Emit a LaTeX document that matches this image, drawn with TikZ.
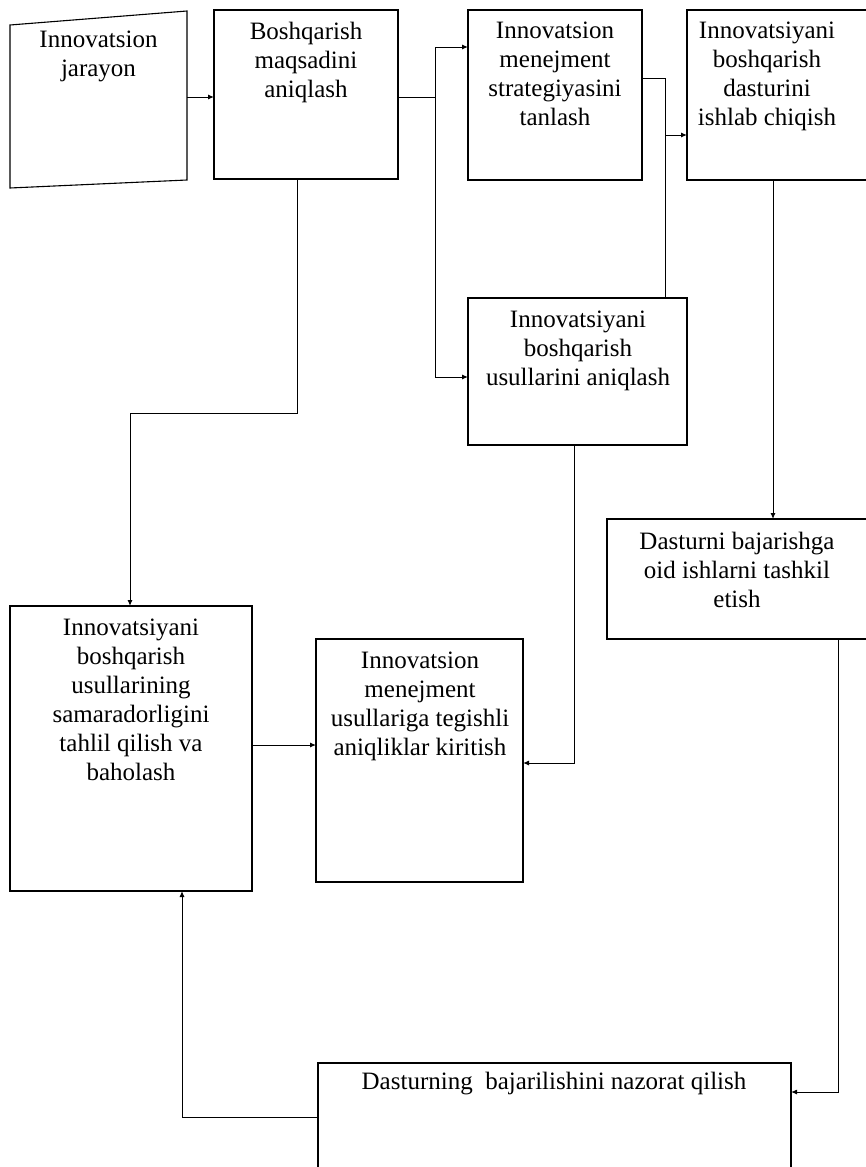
\documentclass[tikz,border=0pt]{standalone}
\usepackage{fontspec}
\setmainfont{Liberation Serif}
\usetikzlibrary{arrows.meta}
\begin{document}
\begin{tikzpicture}[x=1pt,y=-1pt,
  box/.style={draw, line width=1.1pt, rectangle, inner sep=0pt, outer sep=0pt},
  lbl/.style={anchor=north, align=center, inner sep=0pt, font=\fontsize{25}{29}\selectfont},
  conn/.style={line width=1pt},
  arr/.style={conn, -{Latex[length=6pt,width=5pt]}}]
\useasboundingbox[fill=white] (0,0) rectangle (866,1167);

% boxes
\node[inner sep=0pt, outer sep=0pt, minimum width=177pt, minimum height=177pt] (A) at (98.5,99.5) {};
\draw[line width=1.1pt] (10,25) -- (187,11) -- (187,180) -- (10,188) -- cycle;
\node[box, minimum width=184pt, minimum height=169pt] (B) at (306,94.5) {};
\node[box, minimum width=174pt, minimum height=170pt] (C) at (555,95) {};
\node[box, minimum width=213pt, minimum height=170pt] (D) at (793.5,95) {};
\node[box, minimum width=219pt, minimum height=147pt] (E) at (577.5,371.5) {};
\node[box, minimum width=293pt, minimum height=120pt] (F) at (753.5,579) {};
\node[box, minimum width=242pt, minimum height=285pt] (G) at (131,748.5) {};
\node[box, minimum width=207pt, minimum height=243pt] (H) at (419.5,760.5) {};
\node[box, minimum width=473pt, minimum height=147pt] (I) at (554.5,1136.5) {};

% texts
\node[lbl] (At) at (98.5,31) {Innovatsion\\jarayon};
\node[lbl] (Bt) at (306,22) {Boshqarish\\maqsadini\\aniqlash};
\node[lbl] (Ct) at (555,22) {Innovatsion\\menejment\\strategiyasini\\tanlash};
\node[lbl] (Dt) at (767,22) {Innovatsiyani\\boshqarish\\dasturini\\ishlab chiqish};
\node[lbl] (Et) at (578,311) {Innovatsiyani\\boshqarish\\usullarini aniqlash};
\node[lbl] (Ft) at (737,532) {Dasturni bajarishga\\oid ishlarni tashkil\\etish};
\node[lbl] (Gt) at (131,619) {Innovatsiyani\\boshqarish\\usullarining\\samaradorligini\\tahlil qilish va\\baholash};
\node[lbl] (Ht) at (420,652) {Innovatsion\\menejment\\usullariga tegishli\\aniqliklar kiritish};
\node[lbl] (It) at (554,1072) {Dasturning\ \ bajarilishini nazorat qilish};

% connectors
\draw[arr] (A.east |- 0,97) -- (B.west |- 0,97);

\coordinate (jB) at (435,97);
\coordinate (jBt) at (435,47);
\coordinate (jBb) at (435,377);
\draw[conn] (B.east |- jB) -- (jB);
\draw[conn] (jBt) -- (jBb);
\draw[arr] (jBt) -- (C.west |- jBt);
\draw[arr] (jBb) -- (E.west |- jBb);

\coordinate (jC) at (665,78);
\coordinate (jCd) at (665,135);
\draw[conn] (C.east |- jC) -- (jC) -- (jC |- E.north);
\draw[arr] (jCd) -- (D.west |- jCd);

\coordinate (df) at (773,300);
\draw[arr] (D.south -| df) -- (F.north -| df);

\coordinate (eh) at (574,763);
\draw[arr] (E.south -| eh) -- (eh) -- (H.east |- eh);

\coordinate (bg1) at (297,413);
\coordinate (bg2) at (130,413);
\draw[arr] (B.south -| bg1) -- (bg1) -- (bg2) -- (G.north -| bg2);

\coordinate (gh) at (280,745);
\draw[arr] (G.east |- gh) -- (H.west |- gh);

\coordinate (fi) at (838,1092);
\draw[arr] (F.south -| fi) -- (fi) -- (I.east |- fi);

\coordinate (ig) at (182,1117);
\draw[arr] (I.west |- ig) -- (ig) -- (G.south -| ig);
\end{tikzpicture}
\end{document}
